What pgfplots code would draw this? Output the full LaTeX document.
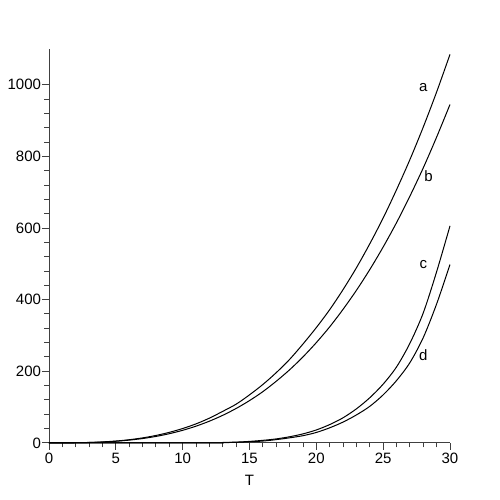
\documentclass[border=0pt]{standalone}
\usepackage{fontspec}
\setmainfont{Liberation Sans}
\usepackage{pgfplots}
\pgfplotsset{compat=1.18}

\begin{document}
\begin{tikzpicture}
\begin{axis}[
  scale only axis, width=401pt, height=401pt,
  xmin=0, xmax=30, ymin=-20, ymax=1100,
  enlargelimits=false, clip=false,
  axis lines=middle, axis line style={-, black!75, line width=0.9pt},
  hide obscured x ticks=false, hide obscured y ticks=false,
  xtick={0,5,...,30}, minor x tick num=4,
  ytick={0,200,...,1000}, minor y tick num=4,
  tick align=outside, tick style={black!75, line width=0.9pt},
  major tick length=7pt, minor tick length=4.5pt,
  tick label style={font=\fontsize{15}{18}\selectfont},
  yticklabel style={xshift=2.5pt},
  /pgf/number format/assume math mode=true,
  /pgf/number format/1000 sep={},
]
\coordinate (sw) at (rel axis cs:0,0);
\coordinate (ne) at (rel axis cs:1,1);
% a
\addplot[black, line width=1pt, smooth, mark=none] coordinates {(0,0)(1,0.04)(2,0.3)(3,1.1)(4,2.6)(5,5)(6,8.7)(7,13.8)(8,20.6)(9,29.3)(10,40)(11,53)(12,69)(13,88)(14,108)(15,134)(16,163)(17,196)(18,233)(19,276)(20,322)(21,372)(22,428)(23,489)(24,556)(25,628)(26,707)(27,791)(28,882)(29,980)(30,1085)};
% b
\addplot[black, line width=1pt, smooth, mark=none] coordinates {(0,0)(1,0.03)(2,0.28)(3,0.95)(4,2.2)(5,4.4)(6,7.6)(7,12)(8,17.9)(9,25.5)(10,35)(11,46.6)(12,60.5)(13,76.9)(14,96)(15,118)(16,143)(17,172)(18,204)(19,240)(20,280)(21,324)(22,373)(23,426)(24,484)(25,547)(26,615)(27,689)(28,768)(29,854)(30,945)};
% c
\addplot[black, line width=1pt, smooth, mark=none] coordinates {(0,0)(12,0)(13,1)(14,2)(15,4)(16,7)(17,11)(18,17)(19,25)(20,36)(21,51)(22,70)(23,95)(24,126)(25,164)(26,212)(27,278)(28,363)(29,478)(30,606)};
% d
\addplot[black, line width=1pt, smooth, mark=none] coordinates {(0,0)(12,0)(13,0.5)(14,1.5)(15,3)(16,5)(17,9)(18,14)(19,20)(20,29)(21,42)(22,58)(23,78)(24,102)(25,134)(26,174)(27,224)(28,294)(29,388)(30,498)};
\node[font=\fontsize{15}{18}\selectfont] at (axis cs:28,991) {a};
\node[font=\fontsize{15}{18}\selectfont] at (axis cs:28.4,745) {b};
\node[font=\fontsize{15}{18}\selectfont] at (axis cs:28,497) {c};
\node[font=\fontsize{15}{18}\selectfont] at (axis cs:28,245) {d};
\node[font=\fontsize{15}{18}\selectfont] at (axis cs:15,-104) {T};
\end{axis}
\path ([xshift=-49pt,yshift=-50pt]sw) rectangle ([xshift=50pt,yshift=49pt]ne);
\end{tikzpicture}
\end{document}
